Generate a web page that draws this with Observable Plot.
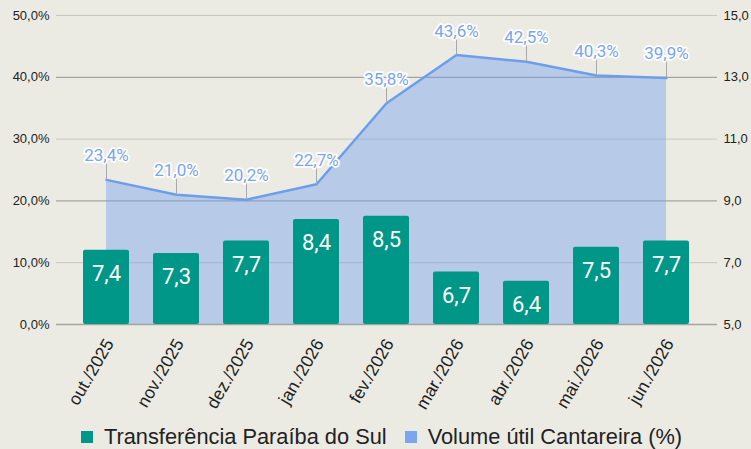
<!DOCTYPE html>
<html><head><meta charset="utf-8">
<script src="https://cdn.jsdelivr.net/npm/d3@7"></script>
<script src="https://cdn.jsdelivr.net/npm/@observablehq/plot@0.6"></script>
<style>
html,body{margin:0;padding:0;background:#ecebe3;width:751px;height:449px;overflow:hidden;}
#chart svg{display:block;}
#legend{height:25px;display:flex;align-items:center;justify-content:center;font-family:"Liberation Sans",Arial,sans-serif;font-size:21.8px;color:#222;padding-left:12px;}
#legend .item{display:flex;align-items:center;margin:0 9px;}
#legend .sw{width:12px;height:12px;margin-right:11px;}
</style></head><body>
<div id="chart"></div>
<div id="legend"></div>
<script>
const months = ["out./2025","nov./2025","dez./2025","jan./2026","fev./2026","mar./2026","abr./2026","mai./2026","jun./2026"];
const transferencia = [7.4,7.3,7.7,8.4,8.5,6.7,6.4,7.5,7.7];
const volume = [23.4,21.0,20.2,22.7,35.8,43.6,42.5,40.3,39.9];
const leftTicks = [0,10,20,30,40,50];
const rightTicks = [5,7,9,11,13,15];
const seriesNames = ["Transferência Paraíba do Sul","Volume útil Cantareira (%)"];
const seriesColors = ["#009688","#7ba6ee"];

// right axis value -> left axis (percent) units
const toLeft = r => (r - 5) * 5;
const fmt = v => v.toFixed(1).replace(".", ",");

const data = months.map((m, i) => ({m, t: transferencia[i], v: volume[i]}));
const darkGrid = leftTicks.filter((d, i) => i % 2 === 0);
const lightGrid = leftTicks.filter((d, i) => i % 2 === 1);

const plot = Plot.plot({
  width: 751,
  height: 424,
  marginTop: 15,
  marginBottom: 100,
  marginLeft: 56,
  marginRight: 34,
  style: {background: "transparent", fontFamily: "'Liberation Sans', Arial, sans-serif"},
  x: {type: "band", domain: months, padding: 0.34, label: null},
  y: {domain: [0, 50], label: null},
  marks: [
    Plot.ruleY(lightGrid, {stroke: "#c6c6c4", strokeWidth: 1}),
    Plot.ruleY(darkGrid, {stroke: "#a4a4a2", strokeWidth: 1.3}),
    Plot.areaY(data, {x: "m", y: "v", fill: "#6d9eeb", fillOpacity: 0.42}),
    Plot.lineY(data, {x: "m", y: "v", stroke: "#6d9eeb", strokeWidth: 2.5}),
    Plot.ruleX(data, {x: "m", y1: "v", y2: d => d.v + 3.2, stroke: "#a8a8a8", strokeWidth: 1}),
    Plot.barY(data, {x: "m", y1: 0, y2: d => toLeft(d.t), fill: "#009688", rx: 2}),
    Plot.text(data, {x: "m", y: d => toLeft(d.t), dy: 24, text: d => fmt(d.t), fill: "white", fontSize: 22, fontFamily: "Roboto, sans-serif"}),
    Plot.text(data, {x: "m", y: "v", dy: -24, text: d => fmt(d.v) + "%", fill: "#7aa5ec", stroke: "white", strokeWidth: 3.5, fontSize: 17, fontFamily: "Roboto, sans-serif"}),
    Plot.axisY({anchor: "left", ticks: leftTicks, tickFormat: d => fmt(d) + "%", tickSize: 0, tickPadding: 7, fontSize: 13, color: "#222", label: null}),
    Plot.axisY({anchor: "right", ticks: rightTicks.map(toLeft), tickFormat: d => fmt(d / 5 + 5), tickSize: 0, tickPadding: 6, fontSize: 13, color: "#222", label: null}),
    Plot.axisX({tickRotate: -60, tickSize: 0, tickPadding: 16, dx: 3, fontSize: 17.5, color: "#222", label: null})
  ]
});
document.getElementById("chart").appendChild(plot);

const legend = document.getElementById("legend");
seriesNames.forEach((name, i) => {
  const item = document.createElement("div");
  item.className = "item";
  const sw = document.createElement("span");
  sw.className = "sw";
  sw.style.background = seriesColors[i];
  const t = document.createElement("span");
  t.textContent = name;
  item.appendChild(sw);
  item.appendChild(t);
  legend.appendChild(item);
});
</script>
</body></html>
